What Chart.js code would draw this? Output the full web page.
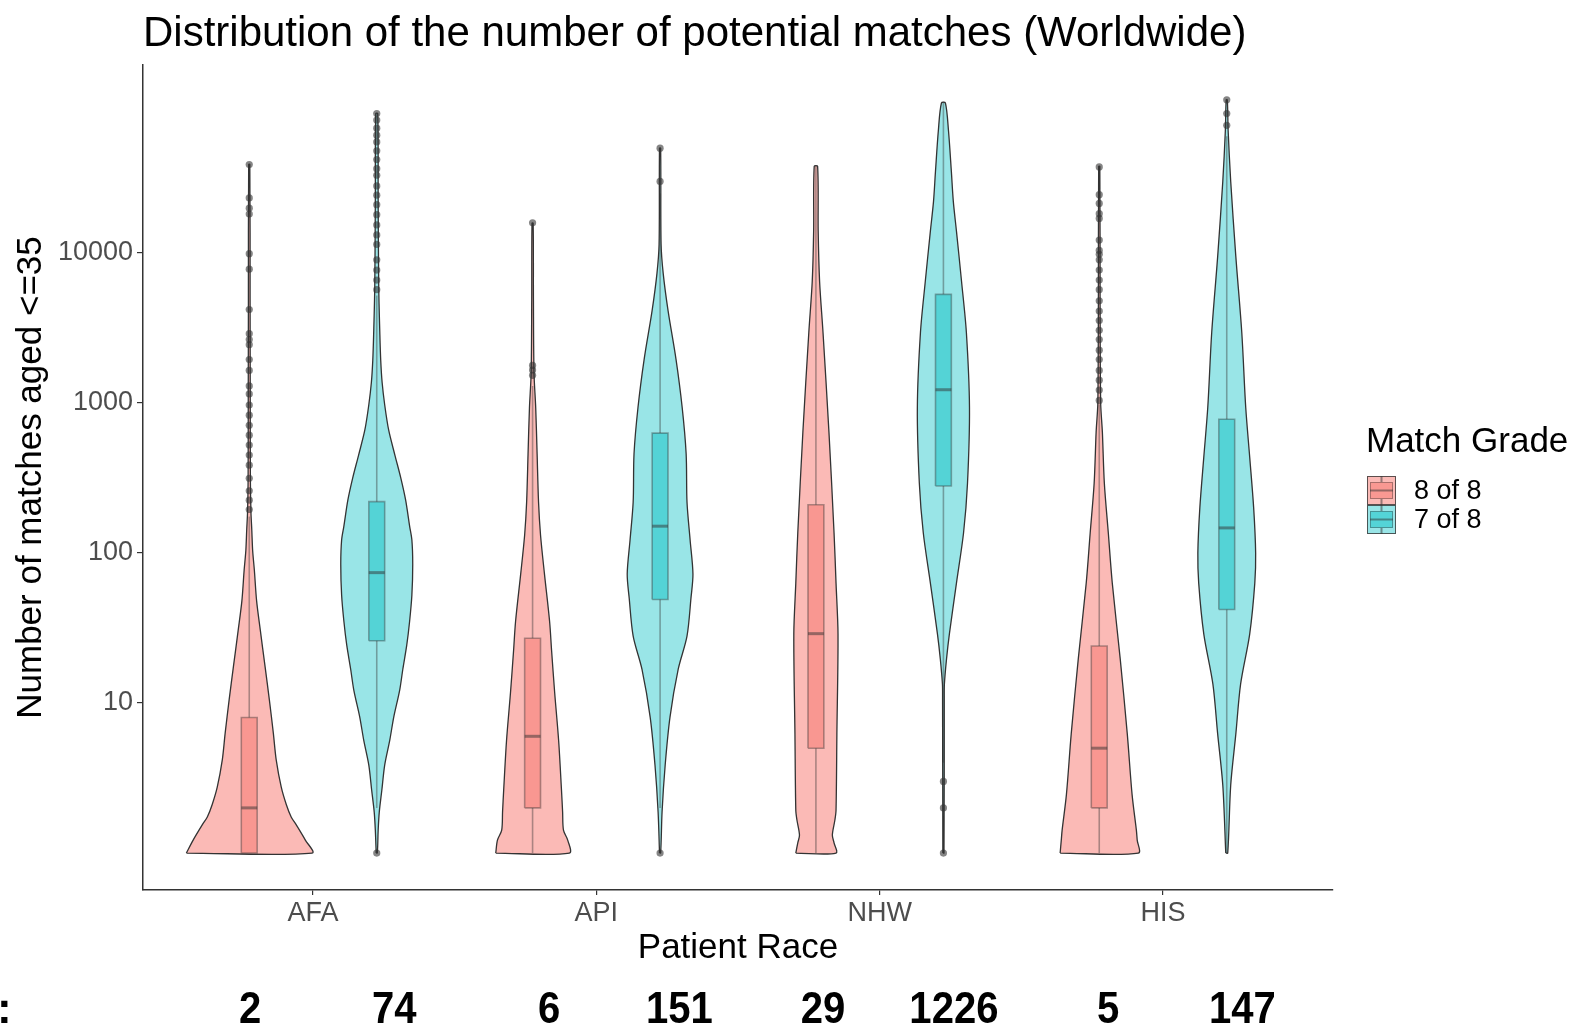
<!DOCTYPE html>
<html lang="en">
<head>
<meta charset="UTF-8">
<title>Distribution of the number of potential matches (Worldwide)</title>
<script src="https://cdn.jsdelivr.net/npm/chart.js"></script>
<style>
  body { margin: 0; background: #fff; }
  #wrap { position: relative; width: 1573px; height: 1030px; }
</style>
</head>
<body>
<div id="wrap"><canvas id="violinChart"></canvas></div>
<script>
// Categories and groups
var races = ['AFA', 'API', 'NHW', 'HIS'];
var grades = ['8 of 8', '7 of 8'];
var yTicks = [10, 100, 1000, 10000];

// Box statistics, one entry per violin: AFA 8/8, AFA 7/8, API 8/8, API 7/8, NHW 8/8, NHW 7/8, HIS 8/8, HIS 7/8
var q1 = [1, 26, 2, 49, 5, 280, 2, 42];
var medians = [2, 74, 6, 151, 29, 1226, 5, 147];
var q3 = [8, 220, 27, 630, 210, 5300, 24, 780];
var whiskerLow = [1, 2, 1, 2, 1, 4, 1, 1];
var whiskerHigh = [175, 5200, 1300, 25000, 38000, 102000, 980, 60000];

// Violin outlines: count levels and half-widths (x units) at each level
var afaPinkLevels = [1, 1.22, 1.54, 1.74, 2.1, 2.75, 4.2, 6.3, 10.5, 17.4, 30.6, 48, 77, 104, 142, 187, 307, 1040, 4900, 38900];
var afaPinkWidths = [0.222, 0.198, 0.166, 0.148, 0.131, 0.113, 0.095, 0.085, 0.071, 0.056, 0.039, 0.026, 0.018, 0.012, 0.009, 0.006, 0.004, 0.0035, 0.003, 0.002];
var afaTealLevels = [1, 1.42, 1.88, 2.63, 3.86, 5.66, 8.06, 12.2, 16.8, 24.4, 35.1, 52.5, 84.3, 122, 151, 225, 316, 450, 661, 974, 1370, 1930, 2850, 5960, 22600, 85100];
var afaTealWidths = [0.002, 0.005, 0.009, 0.018, 0.028, 0.046, 0.06, 0.081, 0.092, 0.106, 0.116, 0.124, 0.127, 0.124, 0.116, 0.102, 0.085, 0.064, 0.042, 0.028, 0.019, 0.014, 0.011, 0.007, 0.005, 0.0035];
var apiPinkLevels = [1, 1.22, 1.42, 1.88, 2.63, 5.6, 11.7, 22.5, 35.1, 72.4, 132, 219, 457, 933, 1590, 4880, 15800];
var apiPinkWidths = [0.13, 0.124, 0.109, 0.106, 0.102, 0.092, 0.078, 0.067, 0.06, 0.042, 0.028, 0.021, 0.016, 0.011, 0.005, 0.003, 0.002];
var apiTealLevels = [1, 1.88, 3.86, 8.06, 16.8, 27.9, 50, 72.4, 122, 219, 457, 933, 1970, 4150, 7320, 11500, 50000];
var apiTealWidths = [0.002, 0.007, 0.018, 0.035, 0.064, 0.095, 0.109, 0.116, 0.106, 0.095, 0.092, 0.078, 0.056, 0.028, 0.011, 0.0035, 0.002];
var nhwPinkLevels = [1, 1.17, 1.32, 1.66, 1.93, 6.2, 28.8, 63, 136, 640, 2960, 6460, 14000, 37800];
var nhwPinkWidths = [0.071, 0.064, 0.058, 0.067, 0.071, 0.074, 0.078, 0.071, 0.064, 0.046, 0.025, 0.013, 0.008, 0.006];
var nhwTealLevels = [1, 10.5, 13.4, 19.7, 28.8, 63, 136, 292, 933, 2960, 6460, 14000, 22000, 35000, 65000, 100000];
var nhwTealWidths = [0.002, 0.003, 0.0035, 0.011, 0.021, 0.046, 0.071, 0.085, 0.092, 0.081, 0.064, 0.046, 0.035, 0.028, 0.018, 0.007];
var hisPinkLevels = [1, 1.22, 1.42, 2.44, 6.2, 19.7, 63, 136, 292, 640, 1000, 4880, 37800];
var hisPinkWidths = [0.138, 0.134, 0.131, 0.116, 0.099, 0.074, 0.046, 0.032, 0.018, 0.011, 0.005, 0.003, 0.002];
var hisTealLevels = [1, 2.84, 6.2, 13.4, 28.8, 63, 100, 200, 436, 933, 2960, 9500, 30000, 65000, 105000];
var hisTealWidths = [0.0035, 0.014, 0.032, 0.049, 0.081, 0.099, 0.102, 0.095, 0.081, 0.067, 0.053, 0.032, 0.014, 0.005, 0.002];

// Outlying values beyond the whiskers
var afaPinkOut = [195, 225, 260, 315, 385, 450, 525, 610, 710, 830, 970, 1150, 1300, 1650, 1950, 2450, 2650, 2900, 4200, 7800, 9900, 18200, 19900, 23300, 38900];
var afaTealOut = [1, 5700, 6600, 7700, 9000, 11400, 13200, 15400, 18000, 21000, 24300, 28000, 33000, 36500, 42000, 48000, 55000, 61000, 68000, 77000, 85000];
var apiPinkOut = [1530, 1660, 1780, 15900];
var apiTealOut = [1, 30000, 50000];
var nhwPinkOut = [];
var nhwTealOut = [1, 2, 3];
var hisPinkOut = [1040, 1220, 1420, 1650, 1950, 2250, 2650, 3050, 3550, 4100, 4800, 5700, 6600, 7700, 9000, 9800, 10400, 12200, 17000, 18300, 21400, 24500, 37500];
var hisTealOut = [71000, 85000, 105000];

var violins = [
  { levels: afaPinkLevels, widths: afaPinkWidths, out: afaPinkOut },
  { levels: afaTealLevels, widths: afaTealWidths, out: afaTealOut },
  { levels: apiPinkLevels, widths: apiPinkWidths, out: apiPinkOut },
  { levels: apiTealLevels, widths: apiTealWidths, out: apiTealOut },
  { levels: nhwPinkLevels, widths: nhwPinkWidths, out: nhwPinkOut },
  { levels: nhwTealLevels, widths: nhwTealWidths, out: nhwTealOut },
  { levels: hisPinkLevels, widths: hisPinkWidths, out: hisPinkOut },
  { levels: hisTealLevels, widths: hisTealWidths, out: hisTealOut }
];

var violinFill = ['rgba(248,118,109,0.5)', 'rgba(0,191,196,0.4)'];
var boxFill = ['rgba(248,118,109,0.5)', 'rgba(0,191,196,0.45)'];
var darkLine = '#333333';
var boxLine = 'rgba(51,51,51,0.4)';
var dodge = 0.225;
var boxHalf = 0.028;

// x position of a violin: race index plus dodge offset for the grade
function centerOf(i) {
  return Math.floor(i / 2) + 1 + (i % 2 === 0 ? -dodge : dodge);
}

function outline(cx, levels, widths) {
  var pts = [];
  for (var i = 0; i < levels.length; i++) pts.push({ x: cx - widths[i], y: levels[i] });
  for (var j = levels.length - 1; j >= 0; j--) pts.push({ x: cx + widths[j], y: levels[j] });
  pts.push({ x: cx - widths[0], y: levels[0] });
  return pts;
}

var datasets = [];
violins.forEach(function (v, i) {
  var cx = centerOf(i);
  var g = i % 2;
  datasets.push({
    type: 'line', data: outline(cx, v.levels, v.widths), fill: 'shape',
    backgroundColor: violinFill[g], borderColor: darkLine, borderWidth: 1.3,
    pointRadius: 0, tension: 0.3, order: 6
  });
  datasets.push({
    type: 'line',
    data: [{ x: cx, y: whiskerLow[i] }, { x: cx, y: q1[i] }, { x: cx, y: NaN },
           { x: cx, y: q3[i] }, { x: cx, y: whiskerHigh[i] }],
    borderColor: boxLine, borderWidth: 1.6, pointRadius: 0, fill: false, order: 4
  });
  datasets.push({
    type: 'line',
    data: [{ x: cx - boxHalf, y: q1[i] }, { x: cx - boxHalf, y: q3[i] },
           { x: cx + boxHalf, y: q3[i] }, { x: cx + boxHalf, y: q1[i] },
           { x: cx - boxHalf, y: q1[i] }],
    fill: 'shape', backgroundColor: boxFill[g], borderColor: boxLine, borderWidth: 1.6,
    pointRadius: 0, tension: 0, order: 3
  });
  datasets.push({
    type: 'line',
    data: [{ x: cx - boxHalf, y: medians[i] }, { x: cx + boxHalf, y: medians[i] }],
    borderColor: 'rgba(51,51,51,0.5)', borderWidth: 3, pointRadius: 0, fill: false, order: 2
  });
  datasets.push({
    type: 'scatter',
    data: v.out.map(function (o) { return { x: cx, y: o }; }),
    pointRadius: 3.6, pointBackgroundColor: 'rgba(51,51,51,0.6)', pointBorderWidth: 0,
    order: 1
  });
});

// x positions (axis units) of the median read-outs under the plot
var medianLabelX = [0.778, 1.287, 1.833, 2.293, 2.8, 3.262, 3.806, 4.28];

var FONT = '"Liberation Sans", Arial, sans-serif';

var extras = {
  id: 'extras',
  afterDraw: function (chart) {
    var ctx = chart.ctx, area = chart.chartArea, xs = chart.scales.x;
    ctx.save();

    // legend
    var lx = area.right + 33;
    var cy = (area.top + area.bottom) / 2 + 3;
    ctx.fillStyle = '#000';
    ctx.textAlign = 'left';
    ctx.textBaseline = 'middle';
    ctx.font = '35px ' + FONT;
    ctx.fillText('Match Grade', lx, cy - 38);
    ctx.font = '27px ' + FONT;
    grades.forEach(function (name, g) {
      var top = cy - 4.5 + g * 29, size = 29;
      ctx.fillStyle = '#ffffff';
      ctx.fillRect(lx + 1, top, size, size);
      ctx.fillStyle = violinFill[g];
      ctx.fillRect(lx + 1, top, size, size);
      ctx.strokeStyle = 'rgba(51,51,51,0.8)';
      ctx.lineWidth = 1;
      ctx.strokeRect(lx + 1.5, top + 0.5, size - 1, size - 1);
      ctx.fillStyle = boxFill[g];
      ctx.fillRect(lx + 4, top + 6, size - 6, size - 12);
      ctx.strokeStyle = boxLine;
      ctx.strokeRect(lx + 4.5, top + 6.5, size - 7, size - 13);
      ctx.beginPath();
      ctx.moveTo(lx + 4, top + size / 2);
      ctx.lineTo(lx + size - 2, top + size / 2);
      ctx.moveTo(lx + 1 + size / 2, top);
      ctx.lineTo(lx + 1 + size / 2, top + 6);
      ctx.moveTo(lx + 1 + size / 2, top + size - 6);
      ctx.lineTo(lx + 1 + size / 2, top + size);
      ctx.strokeStyle = 'rgba(51,51,51,0.5)';
      ctx.lineWidth = 2;
      ctx.stroke();
      ctx.fillStyle = '#000';
      ctx.fillText(name, lx + 48, top + size / 2 + 1);
    });

    // median read-outs, slightly condensed bold figures
    var base = chart.height - 7;
    ctx.font = 'bold 44px ' + FONT;
    ctx.textAlign = 'center';
    ctx.textBaseline = 'alphabetic';
    ctx.fillStyle = '#000';
    medians.forEach(function (m, i) {
      var px = xs.getPixelForValue(medianLabelX[i]);
      ctx.save();
      ctx.translate(px, base);
      ctx.scale(0.91, 1);
      ctx.fillText(String(m), 0, 0);
      ctx.restore();
    });
    ctx.textAlign = 'left';
    ctx.fillText(':', -3, base);
    ctx.restore();
  }
};

Chart.defaults.font.family = FONT;

new Chart(document.getElementById('violinChart'), {
  type: 'scatter',
  data: { datasets: datasets },
  plugins: [extras],
  options: {
    responsive: true,
    maintainAspectRatio: false,
    animation: false,
    events: [],
    layout: { padding: { left: 0, right: 240, top: 0, bottom: 60 } },
    plugins: {
      legend: { display: false },
      tooltip: { enabled: false },
      title: {
        display: true,
        text: 'Distribution of the number of potential matches (Worldwide)',
        align: 'start',
        fullSize: false,
        color: '#000',
        font: { size: 42, weight: 'normal' },
        padding: { top: 9, bottom: 5.6 }
      }
    },
    scales: {
      x: {
        type: 'linear',
        min: 0.4,
        max: 4.6,
        afterFit: function (s) { s.height = 80; },
        afterBuildTicks: function (s) {
          s.ticks = races.map(function (r, i) { return { value: i + 1 }; });
        },
        ticks: {
          color: '#4d4d4d',
          font: { size: 27 },
          padding: 2,
          callback: function (v) { return races[v - 1]; }
        },
        grid: { drawOnChartArea: false, drawTicks: true, tickLength: 5, color: '#333', lineWidth: 1.2 },
        border: { display: true, color: '#333', width: 1.5 },
        title: { display: true, text: 'Patient Race', color: '#000', font: { size: 35 }, padding: { top: 0, bottom: 1 } }
      },
      y: {
        type: 'logarithmic',
        min: 0.567,
        max: 179200,
        afterFit: function (s) { s.width = 143; },
        afterBuildTicks: function (s) {
          s.ticks = yTicks.map(function (v) { return { value: v }; });
        },
        ticks: {
          color: '#4d4d4d',
          font: { size: 27 },
          padding: 4,
          callback: function (v) { return String(v); }
        },
        grid: { drawOnChartArea: false, drawTicks: true, tickLength: 6, color: '#333', lineWidth: 1.2 },
        border: { display: true, color: '#333', width: 1.5 },
        title: { display: true, text: 'Number of matches aged <=35', color: '#000', font: { size: 35 }, padding: { top: 10, bottom: 0 } }
      }
    }
  }
});
</script>
</body>
</html>
